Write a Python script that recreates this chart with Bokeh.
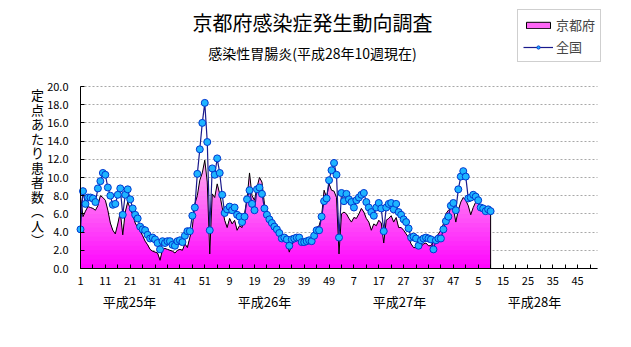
import numpy as np
from bokeh.plotting import figure
from bokeh.models import (Range1d, FixedTicker, Label, Legend, LegendItem, PrintfTickFormatter,
                          LinearAxis, Grid)
from bokeh.embed import file_html
from bokeh.resources import INLINE

# ---------------- data ----------------
title_text = "京都府感染症発生動向調査"
subtitle_text = "感染性胃腸炎(平成28年10週現在)"
y_title = "定点あたり患者数︵人︶"
series_names = ["京都府", "全国"]
year_labels = ["平成25年", "平成26年", "平成27年", "平成28年"]
week_tick_labels = ["1", "11", "21", "31", "41", "51", "9", "19", "29", "39", "49",
                    "7", "17", "27", "37", "47", "5", "15", "25", "35", "45"]

national_2013 = [4.3, 8.5, 7.1, 7.8, 7.8, 7.7, 7.3, 8.8, 9.6, 10.5, 10.3, 8.9, 8.0, 7.0, 7.1, 8.1,
                 8.8, 5.9, 8.1, 8.7, 7.6, 6.6, 5.9, 5.5, 4.6, 4.3, 4.2, 3.7, 3.3, 3.4, 3.2, 2.8,
                 2.1, 3.0, 2.8, 3.0, 3.0, 2.6, 2.5, 3.0, 3.1, 2.9, 3.6, 4.1, 4.1, 5.8, 6.7, 10.4,
                 13.1, 16.0, 18.2, 13.9]
national_2014 = [4.2, 11.0, 10.3, 12.1, 10.5, 8.1, 6.1, 6.5, 6.8, 6.4, 6.7, 5.9, 5.7, 5.1, 5.7, 7.6,
                 8.6, 7.1, 6.4, 8.7, 8.9, 8.2, 6.6, 5.9, 5.4, 5.0, 4.6, 4.3, 3.9, 3.3, 3.4, 3.2,
                 2.5, 3.2, 3.3, 3.4, 3.4, 2.9, 2.9, 3.0, 3.1, 3.0, 3.6, 4.2, 4.2, 5.7, 7.4, 7.7,
                 9.7, 10.8, 11.6, 10.3]
national_2015 = [3.4, 8.3, 7.4, 8.2, 7.6, 7.3, 6.7, 7.5, 7.8, 8.1, 8.3, 7.3, 6.7, 6.2, 5.8, 6.7,
                 7.2, 6.6, 4.1, 6.7, 7.1, 7.2, 6.5, 7.1, 6.2, 5.9, 5.4, 5.1, 4.4, 3.4, 3.5, 3.3,
                 2.5, 3.1, 3.3, 3.4, 3.3, 3.2, 2.1, 3.1, 3.3, 3.3, 4.3, 5.2, 5.7, 6.9, 7.2, 6.4,
                 8.7, 10.1, 10.7, 10.1]
national_2016 = [7.7, 7.8, 8.1, 7.9, 7.5, 6.7, 6.6, 6.3, 6.5, 6.3]

kyoto_2013 = [8.0, 5.7, 6.3, 6.8, 6.7, 6.6, 6.4, 6.9, 8.0, 7.8, 7.5, 6.4, 5.0, 4.2, 3.8, 4.9,
              6.2, 3.7, 6.2, 7.3, 6.6, 5.9, 5.0, 4.5, 4.1, 3.6, 3.0, 2.6, 2.1, 1.9, 1.8, 1.7,
              0.9, 2.1, 2.2, 2.1, 2.0, 1.9, 1.7, 2.0, 2.1, 2.0, 2.7, 2.3, 3.4, 4.5, 7.1, 8.0,
              9.7, 10.5, 11.9, 9.5]
kyoto_2014 = [1.6, 8.2, 7.8, 9.3, 8.2, 6.7, 5.3, 4.5, 5.5, 4.9, 5.3, 4.2, 4.7, 4.5, 6.0, 7.7,
              10.5, 8.0, 7.5, 8.9, 10.0, 9.5, 7.1, 6.2, 5.3, 4.9, 4.5, 4.0, 3.4, 3.2, 3.1, 2.9,
              1.8, 2.7, 2.9, 3.2, 3.1, 2.7, 2.9, 3.0, 3.2, 3.2, 3.9, 4.5, 4.7, 5.7, 8.6, 7.8,
              9.3, 8.6, 8.5, 7.8]
kyoto_2015 = [1.6, 6.0, 6.2, 6.0, 5.5, 5.1, 5.6, 5.5, 6.0, 6.6, 6.2, 5.5, 5.1, 4.2, 4.9, 4.7,
              5.3, 5.0, 2.8, 5.3, 5.5, 5.8, 5.1, 5.6, 4.5, 4.5, 4.2, 3.8, 3.4, 2.7, 2.3, 2.3,
              2.5, 2.4, 2.7, 2.8, 2.5, 2.5, 2.9, 3.4, 3.8, 4.2, 4.9, 6.0, 6.4, 6.6, 6.6, 5.1,
              6.4, 7.3, 7.8, 7.5]
kyoto_2016 = [6.9, 5.9, 6.7, 7.3, 7.1, 6.6, 6.4, 6.2, 6.2, 6.2]

# ---------------- build ----------------
national = np.array(national_2013 + national_2014 + national_2015 + national_2016)
kyoto = np.array(kyoto_2013 + kyoto_2014 + kyoto_2015 + kyoto_2016)
x = np.arange(len(national))

FONT = "Noto Sans CJK JP"
W, H = 631, 347
X0_PX, X1_PX, Y0_PX, Y1_PX = 80, 597, 268, 86   # plot-area pixel box
XMAX, YMAX = 208, 20

def dx(px):
    return (px - X0_PX) * XMAX / (X1_PX - X0_PX)

def dy(py):
    return (Y0_PX - py) * YMAX / (Y0_PX - Y1_PX)

p = figure(width=W, height=H, x_range=Range1d(dx(0), dx(W)), y_range=Range1d(dy(H), dy(0)),
           output_backend="svg", toolbar_location=None,
           x_axis_location=None, y_axis_location=None,
           min_border_left=0, min_border_right=0, min_border_top=0, min_border_bottom=0)
p.outline_line_color = None
p.background_fill_color = "white"
p.border_fill_color = "white"
p.xgrid.visible = False
p.ygrid.visible = False

# axes
yt = FixedTicker(ticks=[float(v) for v in range(0, 21, 2)])
yaxis = LinearAxis(fixed_location=0, bounds=(0, YMAX), ticker=yt,
                   formatter=PrintfTickFormatter(format="%.1f"),
                   major_tick_in=4, major_tick_out=0, minor_tick_line_color=None,
                   major_label_standoff=12, major_label_text_font=FONT,
                   major_label_text_font_size="11px", major_label_text_color="black",
                   axis_line_color="black")
p.add_layout(yaxis, "left")

xt = FixedTicker(ticks=list(range(0, 10 * len(week_tick_labels), 10)),
                 minor_ticks=list(range(5, XMAX, 10)))
xaxis = LinearAxis(fixed_location=0, bounds=(0, XMAX), ticker=xt,
                   major_label_overrides={i * 10: lab for i, lab in enumerate(week_tick_labels)},
                   major_tick_in=4, major_tick_out=0, minor_tick_in=4, minor_tick_out=0,
                   major_label_standoff=8, major_label_text_font=FONT,
                   major_label_text_font_size="11px", major_label_text_color="black",
                   axis_line_color="black")
p.add_layout(xaxis, "below")

p.add_layout(Grid(dimension=1, ticker=yt, cross_bounds=(0, XMAX),
                  grid_line_color="#A8A8A8", grid_line_dash="2 2"))

# Kyoto area with vertical gradient (bands)
def grad(level):
    t = min(level / 12.0, 1.0)
    r, g, b = 255, int(175 * t), int(255 - 15 * t)
    return "#%02x%02x%02x" % (r, g, b)

bands = []
steps = np.arange(13.0, 0.0, -0.5)
for L in steps:
    bands.append(p.varea(x=x, y1=0, y2=np.minimum(kyoto, L), fill_color=grad(L), fill_alpha=1.0))

# black outline of the Kyoto area
px_out = np.concatenate([[x[0]], x, [x[-1]]])
py_out = np.concatenate([[0.0], kyoto, [0.0]])
r_outline = p.patch(px_out, py_out, fill_alpha=0, line_color="black", line_width=1)

r_nl = p.line(x, national, line_color="#1a1a8c", line_width=1.2)
r_ns = p.scatter(x, national, size=7, fill_color="#1EB4FF", line_color="#0038D0", line_width=1)

legend = Legend(items=[LegendItem(label=series_names[0], renderers=[bands[12], r_outline]),
                       LegendItem(label=series_names[1], renderers=[r_nl, r_ns])],
                location=(517, H - 62), orientation="vertical",
                glyph_width=30, glyph_height=8, label_height=14,
                label_text_font=FONT, label_text_font_size="13px",
                label_standoff=3, padding=5, spacing=3, margin=0,
                border_line_color="#A0A0A0", background_fill_color="white",
                background_fill_alpha=1.0)
p.add_layout(legend)

p.add_layout(Label(x=dx(312), y=dy(22), text=title_text, text_align="center",
                   text_baseline="middle", text_font=FONT, text_font_size="20px",
                   text_color="black"))
p.add_layout(Label(x=dx(312), y=dy(52), text=subtitle_text, text_align="center",
                   text_baseline="middle", text_font=FONT, text_font_size="14px",
                   text_color="black"))

for i, ch in enumerate(y_title):
    p.add_layout(Label(x=dx(37), y=dy(94 + 14.5 * i), text=ch, text_align="center",
                       text_baseline="middle", text_font=FONT, text_font_size="13px",
                       text_color="black"))

year_centers = [129, 264, 399, 534]
for lab, cx in zip(year_labels, year_centers):
    p.add_layout(Label(x=dx(cx), y=dy(301), text=lab, text_align="center",
                       text_baseline="middle", text_font=FONT, text_font_size="13px",
                       text_color="black"))

open("out.html", "w").write(file_html(p, INLINE))
